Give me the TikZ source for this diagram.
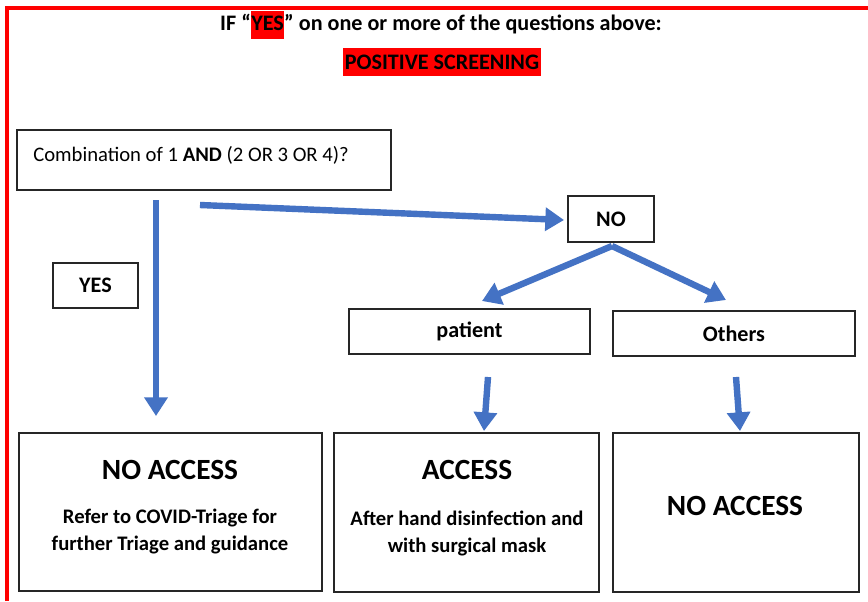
\documentclass[tikz,border=0pt]{standalone}
\usepackage{fontspec}
\setmainfont{Carlito}
\usetikzlibrary{arrows.meta}
\definecolor{arrowblue}{HTML}{4472C4}
\definecolor{hlred}{HTML}{FF0000}
\begin{document}
\begin{tikzpicture}[x=0.75pt,y=-0.75pt,
  box/.style={draw=black!85, line width=1.1pt, inner sep=0pt, align=center},
  arr/.style={draw=arrowblue, line width=4.8pt, -{Triangle[length=14pt,width=17pt]}},
  lbl/.style={font=\fontsize{16.6}{20}\selectfont\bfseries},
  big/.style={font=\fontsize{22}{26}\selectfont\bfseries},
  small/.style={font=\fontsize{15.5}{20.3}\selectfont\bfseries}]
\useasboundingbox (0,0) rectangle (868,601);
\fill[white] (0,0) rectangle (868,601);
\draw[hlred, line width=3pt] (6.5,601) -- (6.5,7.5) -- (868,7.5);

\node[font=\fontsize{16.6}{20}\selectfont\bfseries, inner sep=0pt] (title) at (441,25)
  {IF “{\setlength\fboxsep{0.3pt}\colorbox{hlred}{\strut YES}}” on one or more of the questions above:};
\node[fill=hlred, minimum width=148.5pt, minimum height=21pt, inner sep=0pt,
  font=\fontsize{16.6}{20}\selectfont\bfseries] (pos) at (442,62) {POSITIVE SCREENING};

\node[box, minimum width=280.5pt, minimum height=45pt] (q) at (204,160) {};
\node[font=\fontsize{15.5}{18}\selectfont, anchor=west, inner sep=0pt] (qt) at (33,155)
  {Combination of 1 \textbf{AND} (2 OR 3 OR 4)?};

\node[box, lbl, minimum width=64pt, minimum height=34pt] (yes) at (95.5,285.5) {YES};
\node[box, lbl, minimum width=64.5pt, minimum height=34.5pt] (no) at (611,219) {NO};
\node[box, lbl, minimum width=181pt, minimum height=34pt] (pat) at (469.5,331.5) {patient};
\node[box, lbl, minimum width=181.5pt, minimum height=34pt] (oth) at (734,333.5) {Others};

\node[box, minimum width=227pt, minimum height=118.5pt] (b1) at (170.5,512) {};
\node[box, minimum width=199pt, minimum height=119pt] (b2) at (466.5,512.5) {};
\node[box, minimum width=184.5pt, minimum height=119pt] (b3) at (736,512.5) {};

\node[big] (b1t) at (170,470) {NO ACCESS};
\node[small, align=center] (b1s) at (170,531.5) {Refer to COVID-Triage for\\further Triage and guidance};
\node[big] (b2t) at (467,470) {ACCESS};
\node[small, align=center] (b2s) at (467,533.5) {After hand disinfection and\\with surgical mask};
\node[big] (b3t) at (735,506) {NO ACCESS};

\coordinate (y0) at (156,200);
\coordinate (y1) at (156,416);
\coordinate (n0) at (200,205);
\coordinate (n1) at (564,220);
\coordinate (s0) at (612,246);
\coordinate (p1) at (482,301);
\coordinate (o1) at (726,300);
\coordinate (pa0) at (488,377);
\coordinate (pa1) at (484,431);
\coordinate (oa0) at (736,377);
\coordinate (oa1) at (740,431);

\draw[arr] (y0) -- (y1);
\draw[arr] (n0) -- (n1);
\draw[arr] (s0) -- (p1);
\draw[arr] (s0) -- (o1);
\draw[arr] (pa0) -- (pa1);
\draw[arr] (oa0) -- (oa1);
\end{tikzpicture}
\end{document}
